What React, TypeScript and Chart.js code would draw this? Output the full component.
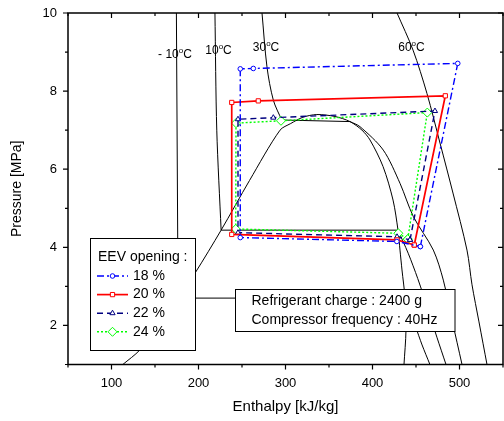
import React, { useEffect, useRef } from "react";
import { Chart, registerables } from "chart.js";

Chart.register(...registerables);

const FONT = "'Liberation Sans', Arial, Helvetica, sans-serif";

// ---- axis ticks ----
const xMajorTicks = [100, 200, 300, 400, 500];
const xMinorTicks = [50, 150, 250, 350, 450, 550];
const yMajorTicks = [2, 4, 6, 8, 10];
const yMinorTicks = [1, 3, 5, 7, 9];

// ---- texts ----
const xTitle = "Enthalpy [kJ/kg]";
const yTitle = "Pressure [MPa]";
const legendTitle = "EEV opening :";
const seriesLabels = ["18 %", "20 %", "22 %", "24 %"];
const infoLines = ["Refrigerant charge : 2400 g", "Compressor frequency : 40Hz"];

// ---- cycles (enthalpy kJ/kg, pressure MPa) ----
const h18 = [455, 498, 263, 248, 248, 428, 455];
const p18 = [4.02, 8.71, 8.58, 8.57, 4.25, 4.15, 4.02];
const h20 = [448, 483.7, 268.7, 238.2, 238.2, 428.2, 448];
const p20 = [4.06, 7.88, 7.75, 7.71, 4.33, 4.19, 4.06];
const h22 = [443.1, 471.8, 286, 245.4, 245.4, 428.2, 443.1];
const p22 = [4.19, 7.49, 7.32, 7.28, 4.375, 4.27, 4.19];
const h24 = [440.5, 463, 294.8, 243.1, 242.8, 429.7, 440.5];
const p24 = [4.21, 7.45, 7.24, 7.18, 4.47, 4.36, 4.21];

// ---- saturation dome ----
const domeH = [113, 132.5, 152, 176.5, 196, 226, 258.6, 293.7, 306, 320, 336, 356.9, 374.1, 387.9, 397.1, 412.1, 423.6, 429.3, 431.6, 433.9, 437.4, 438.5, 436.2];
const domeP = [1.0, 1.37, 1.95, 2.7, 3.34, 4.44, 5.71, 7.0, 7.17, 7.33, 7.4, 7.35, 7.22, 7.0, 6.75, 6.07, 5.21, 4.44, 3.93, 3.42, 2.7, 1.88, 1.0];

// ---- isotherms ----
const tM10LiqH = [174.6, 176.5];
const tM10LiqP = [10, 2.7];
const tM10SatH = [176.5, 437.4];
const tM10SatP = [2.7, 2.7];
const tM10VapH = [437.4, 449, 457, 466];
const tM10VapP = [2.7, 2.0, 1.5, 1.0];

const t10LiqH = [218.9, 221, 226];
const t10LiqP = [10, 7.0, 4.44];
const t10SatH = [226, 429.3];
const t10SatP = [4.44, 4.44];
const t10VapH = [429.3, 441, 452, 464, 474, 484.5];
const t10VapP = [4.44, 3.85, 3.2, 2.4, 1.7, 1.0];

const t30LiqH = [273, 278.7, 286, 295.6];
const t30LiqP = [10, 8.62, 7.77, 7.26];
const t30SatH = [295.6, 374.1];
const t30SatP = [7.26, 7.22];
const t30VapH = [374.1, 385.6, 412.4, 431.6, 446.9, 469.9, 481.4, 491.4, 502.9];
const t30VapP = [7.22, 7.09, 6.49, 5.64, 4.79, 3.93, 3.16, 2.14, 1.0];

const t60H = [428.2, 446.6, 462.6, 477.6, 492.5, 508.6, 514.4, 522.4, 531.6];
const t60P = [10, 9.05, 7.94, 6.67, 5.39, 3.93, 3.04, 2.09, 1.0];

// ---- isotherm labels (anchored in data coords) ----
const isoLabelText = ["- 10", "10", "30", "60"];
const isoLabelH = [173, 223, 277.6, 444.8];
const isoLabelP = [8.925, 9.03, 9.12, 9.12];

type Pt = { x: number; y: number };
const zip = (h: number[], p: number[]): Pt[] => h.map((x, i) => ({ x, y: p[i] }));

const seriesStyles = [
  { color: "#0000ff", dash: [7, 3, 2, 3], point: "circle", r: 2.3, w: 1.4 },
  { color: "#ff0000", dash: [] as number[], point: "rect", r: 3, w: 1.7 },
  { color: "#000080", dash: [6, 4], point: "triangle", r: 3, w: 1.4 },
  { color: "#00ff00", dash: [2, 2], point: "rectRot", r: 4.5, w: 1.4 },
];

const cycleData = [zip(h18, p18), zip(h20, p20), zip(h22, p22), zip(h24, p24)];

function cycleDataset(i: number) {
  const s = seriesStyles[i];
  return {
    label: seriesLabels[i],
    data: cycleData[i],
    showLine: true,
    borderColor: s.color,
    borderWidth: s.w,
    borderDash: s.dash,
    tension: 0,
    pointStyle: s.point,
    pointRadius: s.r,
    pointBorderColor: s.color,
    pointBackgroundColor: "#ffffff",
    pointBorderWidth: 1,
    fill: false,
  };
}

function blackDataset(h: number[], p: number[], tension: number) {
  return {
    label: "",
    data: zip(h, p),
    showLine: true,
    borderColor: "#000000",
    borderWidth: 1,
    tension,
    pointRadius: 0,
    fill: false,
  };
}

function drawMarker(ctx: CanvasRenderingContext2D, style: string, x: number, y: number, r: number, color: string) {
  ctx.save();
  ctx.setLineDash([]);
  ctx.lineWidth = 1;
  ctx.strokeStyle = color;
  ctx.fillStyle = "#ffffff";
  ctx.beginPath();
  if (style === "circle") {
    ctx.arc(x, y, r, 0, Math.PI * 2);
  } else if (style === "rect") {
    const s = r * Math.SQRT1_2;
    ctx.rect(x - s, y - s, 2 * s, 2 * s);
  } else if (style === "triangle") {
    ctx.moveTo(x, y - r);
    ctx.lineTo(x + r * 0.866, y + r * 0.5);
    ctx.lineTo(x - r * 0.866, y + r * 0.5);
    ctx.closePath();
  } else {
    ctx.moveTo(x, y - r);
    ctx.lineTo(x + r, y);
    ctx.lineTo(x, y + r);
    ctx.lineTo(x - r, y);
    ctx.closePath();
  }
  ctx.fill();
  ctx.stroke();
  ctx.restore();
}

const overlayPlugin = {
  id: "overlay",
  afterDatasetsDraw(chart: any) {
    const { ctx, chartArea: a, scales } = chart;
    const xs = scales.x;
    const ys = scales.y;
    ctx.save();

    // isotherm labels
    ctx.fillStyle = "#000";
    ctx.textBaseline = "middle";
    for (let i = 0; i < isoLabelText.length; i++) {
      const cx = xs.getPixelForValue(isoLabelH[i]);
      const cy = ys.getPixelForValue(isoLabelP[i]);
      ctx.font = `12px ${FONT}`;
      const w1 = ctx.measureText(isoLabelText[i]).width;
      const w3 = ctx.measureText("C").width;
      ctx.font = `8px ${FONT}`;
      const w2 = ctx.measureText("o").width;
      const total = w1 + w2 + w3;
      const x0 = cx - total / 2;
      ctx.textAlign = "left";
      ctx.font = `12px ${FONT}`;
      ctx.fillText(isoLabelText[i], x0, cy);
      ctx.font = `8px ${FONT}`;
      ctx.fillText("o", x0 + w1, cy - 4);
      ctx.font = `12px ${FONT}`;
      ctx.fillText("C", x0 + w1 + w2, cy);
    }

    // legend box
    const lx = 90, ly = 238, lw = 105, lh = 112;
    ctx.fillStyle = "#ffffff";
    ctx.fillRect(lx, ly, lw, lh);
    ctx.strokeStyle = "#000";
    ctx.lineWidth = 1;
    ctx.setLineDash([]);
    ctx.strokeRect(lx + 0.5, ly + 0.5, lw, lh);
    ctx.fillStyle = "#000";
    ctx.font = `14px ${FONT}`;
    ctx.textAlign = "left";
    ctx.fillText(legendTitle, 98, 257);
    for (let i = 0; i < seriesLabels.length; i++) {
      const s = seriesStyles[i];
      const yy = 276 + i * 18.6;
      ctx.save();
      ctx.strokeStyle = s.color;
      ctx.lineWidth = s.w;
      ctx.setLineDash(s.dash);
      ctx.beginPath();
      ctx.moveTo(97, yy);
      ctx.lineTo(128, yy);
      ctx.stroke();
      ctx.restore();
      drawMarker(ctx, s.point, 112.5, yy, s.r, s.color);
      ctx.fillStyle = "#000";
      ctx.font = `14px ${FONT}`;
      ctx.fillText(seriesLabels[i], 133, yy);
    }

    // info box
    const bx = 235.5, by = 289, bw = 219.5, bh = 42;
    ctx.fillStyle = "#ffffff";
    ctx.fillRect(bx, by, bw, bh);
    ctx.strokeStyle = "#000";
    ctx.lineWidth = 1;
    ctx.strokeRect(bx, by + 0.5, bw, bh);
    ctx.fillStyle = "#000";
    ctx.font = `14px ${FONT}`;
    ctx.fillText(infoLines[0], 251.5, 301.5);
    ctx.fillText(infoLines[1], 251.5, 320);

    // frame
    ctx.strokeStyle = "#000";
    ctx.lineWidth = 1.5;
    ctx.strokeRect(a.left, a.top, a.right - a.left, a.bottom - a.top);

    // ticks
    ctx.lineWidth = 1.2;
    const xt = (v: number, len: number) => {
      const px = xs.getPixelForValue(v);
      ctx.beginPath();
      ctx.moveTo(px, a.bottom);
      ctx.lineTo(px, a.bottom + len);
      ctx.moveTo(px, a.top);
      ctx.lineTo(px, a.top + len);
      ctx.stroke();
    };
    const yt = (v: number, len: number) => {
      const py = ys.getPixelForValue(v);
      ctx.beginPath();
      ctx.moveTo(a.left - len, py);
      ctx.lineTo(a.left, py);
      ctx.moveTo(a.right - len, py);
      ctx.lineTo(a.right, py);
      ctx.stroke();
    };
    xMajorTicks.forEach((v) => xt(v, 5));
    xMinorTicks.forEach((v) => xt(v, 3));
    yMajorTicks.forEach((v) => yt(v, 5));
    yMinorTicks.forEach((v) => yt(v, 3));

    ctx.restore();
  },
};

export default function App() {
  const ref = useRef<HTMLCanvasElement>(null);

  useEffect(() => {
    const canvas = ref.current;
    if (!canvas) return;
    const datasets: any[] = [
      cycleDataset(0),
      cycleDataset(1),
      cycleDataset(2),
      cycleDataset(3),
      blackDataset(domeH, domeP, 0.3),
      blackDataset(tM10LiqH, tM10LiqP, 0),
      blackDataset(tM10SatH, tM10SatP, 0),
      blackDataset(tM10VapH, tM10VapP, 0.3),
      blackDataset(t10LiqH, t10LiqP, 0.3),
      blackDataset(t10SatH, t10SatP, 0),
      blackDataset(t10VapH, t10VapP, 0.3),
      blackDataset(t30LiqH, t30LiqP, 0.3),
      blackDataset(t30SatH, t30SatP, 0),
      blackDataset(t30VapH, t30VapP, 0.3),
      blackDataset(t60H, t60P, 0.3),
    ];
    const chart = new Chart(canvas, {
      type: "scatter",
      data: { datasets },
      options: {
        animation: false,
        responsive: false,
        devicePixelRatio: 1,
        events: [],
        layout: { autoPadding: false, padding: { top: 13, right: 1, left: 0, bottom: 0 } },
        plugins: { legend: { display: false }, tooltip: { enabled: false } },
        scales: {
          x: {
            type: "linear",
            position: "bottom",
            min: 50,
            max: 550,
            afterFit: (s: any) => {
              s.height = 56.5;
              s.paddingLeft = 0;
              s.paddingRight = 0;
              s.paddingTop = 0;
              s.paddingBottom = 0;
            },
            ticks: {
              stepSize: 50,
              autoSkip: false,
              maxRotation: 0,
              padding: 11,
              color: "#000",
              font: { family: FONT, size: 13 },
              callback: (v: any) => (xMajorTicks.includes(Number(v)) ? String(v) : ""),
            },
            grid: { display: false, drawTicks: false },
            border: { display: false },
            title: {
              display: true,
              text: xTitle,
              color: "#000",
              font: { family: FONT, size: 15 },
              padding: { top: 0, bottom: 5.5 },
            },
          },
          y: {
            type: "linear",
            position: "left",
            min: 1,
            max: 10,
            afterFit: (s: any) => {
              s.width = 68;
              s.paddingLeft = 0;
              s.paddingRight = 0;
              s.paddingTop = 0;
              s.paddingBottom = 0;
            },
            ticks: {
              stepSize: 1,
              autoSkip: false,
              padding: 11,
              color: "#000",
              font: { family: FONT, size: 13 },
              callback: (v: any) => (yMajorTicks.includes(Number(v)) ? String(v) : ""),
            },
            grid: { display: false, drawTicks: false },
            border: { display: false },
            title: {
              display: true,
              text: yTitle,
              color: "#000",
              font: { family: FONT, size: 14 },
              padding: { top: 8.3, bottom: 0 },
            },
          },
        },
      } as any,
      plugins: [overlayPlugin as any],
    });
    return () => chart.destroy();
  }, []);

  return (
    <div style={{ position: "absolute", left: 0, top: 0, width: 504, height: 421, background: "#fff" }}>
      <canvas ref={ref} width={504} height={421} style={{ display: "block" }} />
    </div>
  );
}
